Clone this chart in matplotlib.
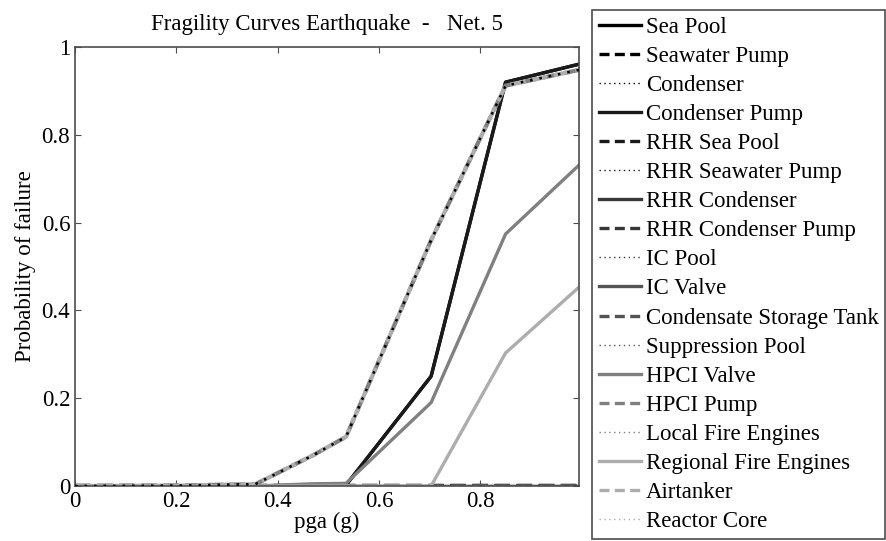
import numpy as np
import matplotlib
matplotlib.use('Agg')
import matplotlib.pyplot as plt
from matplotlib.lines import Line2D
from matplotlib.legend_handler import HandlerLine2D

plt.rcParams['font.family'] = ['Liberation Serif', 'DejaVu Serif']

# pga grid (g)
pga = [0.0, 0.21, 0.29, 0.356, 0.47, 0.535, 0.703, 0.85, 0.995]

# fragility curves
upper = [0.0, 0.001, 0.003, 0.004, 0.07, 0.112, 0.56, 0.912, 0.948]
black = [0.0, 0.0, 0.0, 0.0, 0.0, 0.002, 0.25, 0.92, 0.961]
mid = [0.0, 0.0, 0.0, 0.0, 0.005, 0.006, 0.19, 0.574, 0.731]
light = [0.0, 0.0, 0.0, 0.0, 0.0, 0.0, 0.0, 0.303, 0.453]
zero = [0.0] * len(pga)

names = ['Sea Pool', 'Seawater Pump', 'Condenser', 'Condenser Pump',
         'RHR Sea Pool', 'RHR Seawater Pump', 'RHR Condenser', 'RHR Condenser Pump',
         'IC Pool', 'IC Valve', 'Condensate Storage Tank', 'Suppression Pool',
         'HPCI Valve', 'HPCI Pump', 'Local Fire Engines', 'Regional Fire Engines',
         'Airtanker', 'Reactor Core']
curves = [black, zero, upper, black,
          zero, zero, zero, zero,
          zero, zero, zero, zero,
          mid, upper, zero, light,
          upper, zero]

greys = [0.0, 0.1, 0.22, 0.33, 0.5, 0.68]

fig = plt.figure(figsize=(8.86, 5.41), dpi=100)
ax = fig.add_axes([0.0847, 0.1017, 0.5688, 0.8113])

handles = []
for i, (name, y) in enumerate(zip(names, curves)):
    g = greys[i // 3]
    kind = i % 3
    if kind == 0:
        h, = ax.plot(pga, y, '-', color=(g, g, g), lw=2.4, label=name)
    elif kind == 1:
        # Airtanker dashes shifted half a period so the two greys read as one band
        off = 2.65 if name == 'Airtanker' else 0
        h, = ax.plot(pga, y, color=(g, g, g), lw=3.0, label=name,
                     linestyle=(off, (3.7, 1.6)))
    else:
        h, = ax.plot(pga, y, color=(g, g, g), lw=1.8, label=name,
                     linestyle=(0, (1, 2.8)), zorder=5 if name == 'Condenser' else 2)
    handles.append(h)

ax.set_xlim(0, 0.995)
ax.set_ylim(0, 1)
ax.set_xticks([0, 0.2, 0.4, 0.6, 0.8])
ax.set_xticklabels(['0', '0.2', '0.4', '0.6', '0.8'])
ax.set_yticks([0, 0.2, 0.4, 0.6, 0.8, 1])
ax.set_yticklabels(['0', '0.2', '0.4', '0.6', '0.8', '1'])
ax.tick_params(direction='in', top=True, right=True, labelsize=16.5, length=4, color='0.3')
for s in ax.spines.values():
    s.set_color('0.3')
    s.set_linewidth(1.2)
ax.set_xlabel('pga (g)', fontsize=16.5, labelpad=0)
ax.set_ylabel('Probability of failure', fontsize=16.5, labelpad=4)
ax.set_title('Fragility Curves Earthquake  -   Net. 5', fontsize=16.5, pad=12)


def legend_style(leg_line, orig):
    # thinner dotted / shorter dashes in the legend, like the original
    leg_line.update_from(orig)
    kind = names.index(orig.get_label()) % 3
    if kind == 2:
        leg_line.set_linewidth(1.0)
        leg_line.set_linestyle((0, (1, 2.5)))
    elif kind == 1:
        leg_line.set_linewidth(2.4)
        leg_line.set_linestyle((0, (3, 1.6)))


leg = fig.legend(handles=handles, loc='upper left', bbox_to_anchor=(0.668, 0.9815),
                 fontsize=16.5, handlelength=1.85, handletextpad=0.2,
                 labelspacing=0.35, borderpad=0.3, fancybox=False,
                 framealpha=1, edgecolor='0.3', borderaxespad=0,
                 handler_map={Line2D: HandlerLine2D(update_func=legend_style)})
leg.get_frame().set_linewidth(1.2)

fig.savefig('out.png', dpi=100)
